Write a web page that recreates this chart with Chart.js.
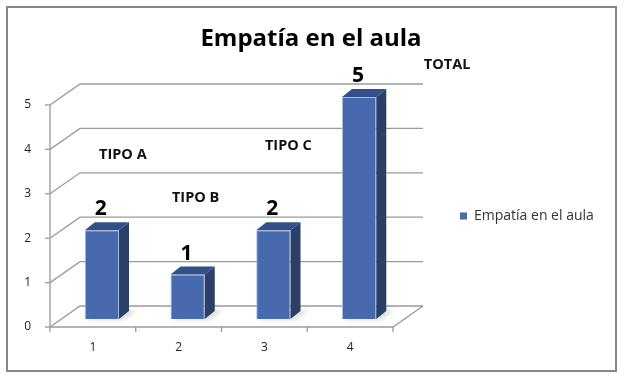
<!DOCTYPE html>
<html><head><meta charset="utf-8">
<script src="https://cdn.jsdelivr.net/npm/chart.js@4"></script>
<style>html,body{margin:0;padding:0;background:#fff}canvas{display:block}</style>
</head><body>
<canvas id="c" width="624" height="381"></canvas>
<script>
// ---- data ----
const categories = ['1', '2', '3', '4'];
const values = [2, 1, 2, 5];
const yTicks = [0, 1, 2, 3, 4, 5];
const seriesName = 'Empatía en el aula';
const chartTitle = 'Empatía en el aula';
const noteTexts = ['TIPO A', 'TIPO B', 'TIPO C', 'TOTAL'];

// ---- layout helpers ----
const FRONT = {dx: -9, dy: 8};    // front plane offset from bar plane
const BACK = {dx: 21, dy: -13};   // back wall offset from bar plane
const BAR_D = {dx: 10, dy: -8};   // bar depth
const noteAnchors = [[0, 21, 3.69], [1, 8, 2.72], [2, 15, 3.9], [3, 88, 5.72]];

const FONT = 'Open Sans';
const LEG_FONT = 14, LEG_BOX = 7, LEG_PAD = 58;
const mctx = document.createElement('canvas').getContext('2d');
mctx.font = LEG_FONT + 'px "' + FONT + '"';
const legW = LEG_PAD + LEG_BOX + LEG_FONT / 2 + mctx.measureText(seriesName).width + 10;
const AREA_RIGHT = 402, AREA_LEFT = 59;
const padR = Math.max(0, 624 - AREA_RIGHT - legW);
const padL = Math.min(20, Math.max(0, padR - 2));

const depthPlugin = {
  id: 'depth3d',
  beforeDraw(chart) {
    const {ctx, width, height} = chart;
    ctx.save();
    ctx.fillStyle = '#fff';
    ctx.fillRect(0, 0, width, height);
    ctx.strokeStyle = '#878787';
    ctx.lineWidth = 2;
    ctx.strokeRect(7, 7, 609, 364);
    ctx.restore();
  },
  beforeDatasetsDraw(chart) {
    const {ctx, chartArea: a, scales: {x, y}} = chart;
    ctx.save();
    ctx.strokeStyle = '#9a9a9a';
    ctx.lineWidth = 1.3;
    yTicks.forEach(v => {
      const py = y.getPixelForValue(v);
      ctx.beginPath();
      ctx.moveTo(a.left + FRONT.dx, py + FRONT.dy);
      ctx.lineTo(a.left + BACK.dx, py + BACK.dy);
      ctx.lineTo(a.right + BACK.dx, py + BACK.dy);
      ctx.stroke();
      ctx.beginPath();
      ctx.moveTo(a.left + FRONT.dx - 5, py + FRONT.dy);
      ctx.lineTo(a.left + FRONT.dx, py + FRONT.dy);
      ctx.stroke();
    });
    const y0 = y.getPixelForValue(yTicks[0]);
    const yTop = y.getPixelForValue(yTicks[yTicks.length - 1]);
    ctx.beginPath();
    ctx.moveTo(a.left + FRONT.dx, y0 + FRONT.dy);
    ctx.lineTo(a.left + FRONT.dx, yTop + FRONT.dy);
    ctx.stroke();
    ctx.beginPath();
    ctx.moveTo(a.left + FRONT.dx, y0 + FRONT.dy);
    ctx.lineTo(a.right + FRONT.dx, y0 + FRONT.dy);
    ctx.lineTo(a.right + BACK.dx, y0 + BACK.dy);
    ctx.stroke();
    const n = categories.length;
    for (let k = 0; k <= n; k++) {
      const px = a.left + k * (a.right - a.left) / n + FRONT.dx;
      ctx.beginPath();
      ctx.moveTo(px, y0 + FRONT.dy);
      ctx.lineTo(px, y0 + FRONT.dy + 5);
      ctx.stroke();
    }
    const meta = chart.getDatasetMeta(0);
    ctx.fillStyle = 'rgba(0,0,0,0.13)';
    ctx.filter = 'blur(2px)';
    meta.data.forEach(bar => {
      const p = bar.getProps(['x', 'base', 'width'], true);
      const l = p.x - p.width / 2, r = p.x + p.width / 2;
      ctx.beginPath();
      ctx.moveTo(l + 2, p.base + 1);
      ctx.lineTo(r + 5, p.base + 1);
      ctx.lineTo(r + 18, p.base - 9);
      ctx.lineTo(l + 15, p.base - 9);
      ctx.closePath();
      ctx.fill();
    });
    ctx.restore();
  },
  afterDatasetsDraw(chart) {
    const {ctx, scales: {x, y}} = chart;
    const meta = chart.getDatasetMeta(0);
    ctx.save();
    meta.data.forEach((bar, i) => {
      const p = bar.getProps(['x', 'y', 'base', 'width'], true);
      const l = p.x - p.width / 2, r = p.x + p.width / 2;
      ctx.fillStyle = '#2b3f68';
      ctx.beginPath();
      ctx.moveTo(r, p.y);
      ctx.lineTo(r + BAR_D.dx, p.y + BAR_D.dy);
      ctx.lineTo(r + BAR_D.dx, p.base + BAR_D.dy);
      ctx.lineTo(r, p.base);
      ctx.closePath();
      ctx.fill();
      ctx.fillStyle = '#33508a';
      ctx.beginPath();
      ctx.moveTo(l, p.y);
      ctx.lineTo(l + BAR_D.dx, p.y + BAR_D.dy);
      ctx.lineTo(r + BAR_D.dx, p.y + BAR_D.dy);
      ctx.lineTo(r, p.y);
      ctx.closePath();
      ctx.fill();
      ctx.fillStyle = '#000';
      ctx.font = 'bold 21px "' + FONT + '"';
      ctx.textAlign = 'center';
      ctx.textBaseline = 'middle';
      ctx.fillText(String(values[i]), p.x - 1, p.y - 21);
    });
    ctx.font = 'bold 14.5px "' + FONT + '"';
    ctx.fillStyle = '#111';
    ctx.textAlign = 'center';
    ctx.textBaseline = 'middle';
    noteTexts.forEach((t, i) => {
      const [ci, dx, v] = noteAnchors[i];
      ctx.fillText(t, x.getPixelForValue(ci) + dx, y.getPixelForValue(v));
    });
    ctx.restore();
  }
};

new Chart(document.getElementById('c'), {
  type: 'bar',
  data: {
    labels: categories,
    datasets: [{
      label: seriesName,
      data: values,
      backgroundColor: '#4769ad',
      borderColor: '#a8bbdf',
      borderWidth: 1,
      categoryPercentage: 1,
      barPercentage: 0.4
    }]
  },
  options: {
    responsive: false,
    devicePixelRatio: 1,
    animation: false,
    layout: {padding: {left: padL, right: padR, top: 0, bottom: 17}},
    scales: {
      x: {
        grid: {display: false, drawTicks: false},
        border: {display: false},
        ticks: {font: {family: FONT, size: 12}, color: '#222', padding: 21, labelOffset: FRONT.dx, maxRotation: 0},
        afterFit(s) { s.height = 45; }
      },
      y: {
        min: 0, max: 5,
        grid: {display: false, drawTicks: false},
        border: {display: false},
        ticks: {stepSize: 1, font: {family: FONT, size: 12}, color: '#222', padding: 28, labelOffset: FRONT.dy},
        afterFit(s) { s.width = AREA_LEFT - padL; }
      }
    },
    plugins: {
      title: {
        display: true, text: chartTitle, color: '#000',
        font: {family: FONT, size: 24, weight: 'bold'},
        padding: {top: 24.6, bottom: 43.6}
      },
      legend: {
        position: 'right', fullSize: false, maxWidth: 400,
        title: {display: true, text: '', font: {size: 1, lineHeight: 1}, padding: {top: 0, bottom: 15}},
        labels: {
          boxWidth: LEG_BOX, boxHeight: LEG_BOX, padding: LEG_PAD,
          font: {family: FONT, size: LEG_FONT}, color: '#333',
          generateLabels(chart) {
            const items = Chart.defaults.plugins.legend.labels.generateLabels(chart);
            items.forEach(it => { it.strokeStyle = it.fillStyle; it.lineWidth = 0; });
            return items;
          }
        }
      },
      tooltip: {enabled: false}
    }
  },
  plugins: [depthPlugin]
});
</script>
</body></html>
